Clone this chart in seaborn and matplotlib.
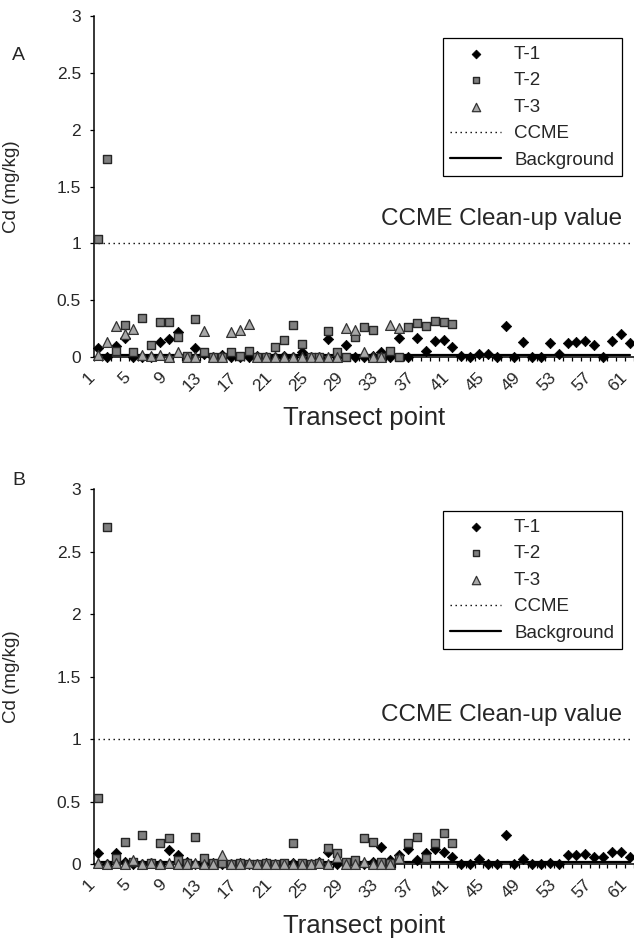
import matplotlib
matplotlib.use('Agg')
import matplotlib.pyplot as plt
import seaborn as sns

# transect points 1..61, labels every 4th point
points = list(range(1, 62))
tick_points = list(range(1, 62, 4))

# panel A, Cd (mg/kg)
a_t1 = [0.08, 0.00, 0.10, 0.17, 0.00, 0.00, 0.00, 0.13, 0.16, 0.22,
        0.00, 0.08, 0.03, 0.00, 0.02, 0.00, 0.00, 0.00, 0.01, 0.00,
        0.00, 0.01, 0.00, 0.04, 0.00, 0.00, 0.16, 0.00, 0.11, 0.00,
        0.00, 0.01, 0.04, 0.00, 0.17, 0.00, 0.17, 0.05, 0.14, 0.15,
        0.09, 0.01, 0.00, 0.03, 0.03, 0.00, 0.27, 0.00, 0.13, 0.00,
        0.00, 0.12, 0.03, 0.12, 0.13, 0.14, 0.11, 0.00, 0.14, 0.20,
        0.12]
a_t2 = [1.04, 1.74, 0.05, 0.28, 0.04, 0.345, 0.105, 0.31, 0.31, 0.18,
        0.01, 0.335, 0.04, 0.00, 0.00, 0.04, 0.01, 0.05, 0.00, 0.00,
        0.085, 0.15, 0.28, 0.115, 0.00, 0.00, 0.23, 0.04, 0.00, 0.175,
        0.26, 0.24, 0.00, 0.05, 0.00, 0.26, 0.30, 0.275, 0.32, 0.31,
        0.29]
a_t3 = [0.02, 0.13, 0.27, 0.20, 0.25, 0.02, 0.01, 0.02, 0.00, 0.045,
        0.00, 0.00, 0.23, 0.00, 0.00, 0.22, 0.24, 0.29, 0.00, 0.00,
        0.00, 0.00, 0.00, 0.00, 0.00, 0.00, 0.00, 0.00, 0.255, 0.24,
        0.045, 0.00, 0.00, 0.28, 0.255]

# panel B, Cd (mg/kg)
b_t1 = [0.09, 0.00, 0.09, 0.02, 0.00, 0.00, 0.01, 0.00, 0.11, 0.07,
        0.02, 0.00, 0.00, 0.01, 0.00, 0.00, 0.01, 0.00, 0.00, 0.01,
        0.00, 0.00, 0.01, 0.00, 0.00, 0.02, 0.10, 0.00, 0.01, 0.00,
        0.00, 0.02, 0.14, 0.03, 0.07, 0.12, 0.03, 0.09, 0.12, 0.10,
        0.06, 0.00, 0.00, 0.04, 0.00, 0.00, 0.23, 0.00, 0.04, 0.00,
        0.00, 0.01, 0.00, 0.07, 0.07, 0.08, 0.06, 0.06, 0.10, 0.10,
        0.06]
b_t2 = [0.53, 2.70, 0.05, 0.18, 0.02, 0.23, 0.01, 0.17, 0.21, 0.03,
        0.01, 0.215, 0.05, 0.01, 0.01, 0.00, 0.01, 0.00, 0.00, 0.01,
        0.00, 0.01, 0.165, 0.01, 0.00, 0.01, 0.13, 0.09, 0.02, 0.03,
        0.21, 0.18, 0.02, 0.01, 0.04, 0.17, 0.22, 0.05, 0.17, 0.25,
        0.17]
b_t3 = [0.01, 0.00, 0.01, 0.00, 0.03, 0.00, 0.01, 0.00, 0.01, 0.00,
        0.00, 0.01, 0.00, 0.00, 0.07, 0.00, 0.00, 0.01, 0.00, 0.00,
        0.00, 0.00, 0.00, 0.00, 0.00, 0.01, 0.00, 0.06, 0.00, 0.00,
        0.02, 0.00, 0.00, 0.00, 0.05]

ccme_value = 1.0
background_value = 0.02
y_ticks = [0, 0.5, 1, 1.5, 2, 2.5, 3]
y_ticklabels = ['0', '0.5', '1', '1.5', '2', '2.5', '3']

sns.set_style('ticks')
plt.rcParams['font.family'] = ['Liberation Sans', 'DejaVu Sans']

fig = plt.figure(figsize=(6.34, 9.41), dpi=100)
ax_a = fig.add_axes([0.1475, 0.6206, 0.8525, 0.3624])
ax_b = fig.add_axes([0.1475, 0.0818, 0.8525, 0.3985])


def draw_panel(ax, t1, t2, t3, legend_top, xlabel_y):
    sns.lineplot(x=points, y=[ccme_value] * len(points), ax=ax, color='black',
                 linestyle=(0, (1, 2.6)), lw=1.0, label='CCME', estimator=None, zorder=2)
    sns.lineplot(x=points, y=[background_value] * len(points), ax=ax, color='black',
                 lw=1.6, label='Background', estimator=None, zorder=2)
    sns.scatterplot(x=points[:len(t1)], y=t1, ax=ax, marker='D', s=28, color='black',
                    edgecolor='black', linewidth=0.5, label='T-1', zorder=3, clip_on=False)
    sns.scatterplot(x=points[:len(t2)], y=t2, ax=ax, marker='s', s=32, color='#7f7f7f',
                    edgecolor='#262626', linewidth=1.0, label='T-2', zorder=4, clip_on=False)
    sns.scatterplot(x=points[:len(t3)], y=t3, ax=ax, marker='^', s=50, color='#a8a8a8',
                    edgecolor='#333333', linewidth=0.9, label='T-3', zorder=5, clip_on=False)

    ax.set_xlim(0.5, 61.5)
    ax.set_ylim(0, 3)
    ax.set_yticks(y_ticks)
    ax.set_yticklabels(y_ticklabels)
    ax.set_xticks(tick_points)
    ax.set_xticklabels([str(p) for p in tick_points], rotation=45, ha='right',
                       va='bottom', rotation_mode='anchor')
    ax.set_xticks([p + 0.5 for p in [0] + points], minor=True)
    ax.tick_params(axis='x', which='major', length=0, pad=17, labelsize=12.5)
    ax.tick_params(axis='x', which='minor', length=3, width=0.9, direction='out', color='black')
    ax.tick_params(axis='y', length=3, width=0.9, direction='out', pad=6, labelsize=12.5,
                   color='black')
    for side in ['top', 'right']:
        ax.spines[side].set_visible(False)
    for side in ['left', 'bottom']:
        ax.spines[side].set_linewidth(1.1)
        ax.spines[side].set_color('black')

    ax.set_ylabel('Cd (mg/kg)', fontsize=13.5)
    ax.yaxis.set_label_coords(-0.136, 0.5)
    ax.set_xlabel('Transect point', fontsize=18.5)
    ax.xaxis.set_label_coords(0.5, xlabel_y)

    ax.annotate('CCME Clean-up value', xy=(0.978, ccme_value),
                xycoords=ax.get_yaxis_transform(), xytext=(0, 13),
                textcoords='offset points', ha='right', va='baseline', fontsize=17.5)

    handles, labels = ax.get_legend_handles_labels()
    order = ['T-1', 'T-2', 'T-3', 'CCME', 'Background']
    hmap = dict(zip(labels, handles))
    leg = ax.legend([hmap[k] for k in order], order, loc='upper right',
                    bbox_to_anchor=(0.977, legend_top), borderaxespad=0,
                    fontsize=13.5, handlelength=2.7, handletextpad=0.7,
                    labelspacing=0.5, borderpad=0.4, fancybox=False,
                    framealpha=1, markerscale=0.85)
    leg.get_frame().set_edgecolor('black')
    leg.get_frame().set_linewidth(0.9)


draw_panel(ax_a, a_t1, a_t2, a_t3, 0.935, -0.145)
draw_panel(ax_b, b_t1, b_t2, b_t3, 0.941, -0.133)

fig.text(12 / 634, 1 - 55 / 941, 'A', fontsize=14, va='center', ha='left')
fig.text(12 / 634, 1 - 480 / 941, 'B', fontsize=14, va='center', ha='left')

fig.savefig('out.png', dpi=100)
